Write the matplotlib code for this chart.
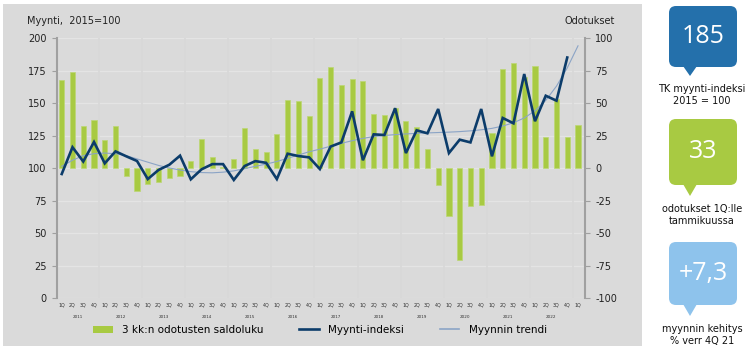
import matplotlib.pyplot as plt
from matplotlib.patches import FancyBboxPatch, Polygon, Rectangle, Patch
from matplotlib.lines import Line2D

plt.rcParams['font.family'] = ['DejaVu Sans']
plt.rcParams['axes.unicode_minus'] = False

# neljännekset 1Q 2011 ... 1Q (49 kpl)
quarters = ['1Q', '2Q', '3Q', '4Q'] * 12 + ['1Q']
years = ['2011', '2012', '2013', '2014', '2015', '2016',
         '2017', '2018', '2019', '2020', '2021', '2022']

# 3 kk:n odotusten saldoluku (oikea akseli)
odotukset = [68, 74, 32, 37, 21.5, 32, -6, -18, -12, -11, -8, -6,
             5.6, 22.3, 8.2, 1, 7, 30.8, 14.6, 12, 26, 52.6, 51.8, 40.3,
             69, 78, 64, 68.5, 66.7, 41.5, 40.8, 46, 36.4, 31.3, 14.6, -12.8,
             -36.7, -70.5, -29.5, -28.5, 27, 76, 80.5, 70, 78.7, 24, 53, 23.6, 33]

# myynti-indeksi 2015=100 (vasen akseli)
indeksi = [95.4, 116, 105, 120, 103.6, 112.8, 109, 105.4, 91.5, 98.5, 102.5, 109.5,
           91.3, 99, 103, 103, 90.8, 101.5, 105.3, 104, 91.5, 111, 109.2, 108.2,
           99.2, 116.5, 119.7, 143.6, 106, 125.9, 125.4, 146, 111.5, 129, 126.7, 145.4,
           111.5, 121.8, 119.7, 145.4, 109, 138.5, 134.4, 172.3, 136, 155.6, 151.8, 185]

trendi = [101.3, 106, 109.5, 111, 111.5, 111, 109.5, 107, 104.5, 102, 100, 98.5,
          97.2, 96.5, 96.3, 96.8, 97.8, 99.5, 101.3, 103, 105, 107.5, 110, 112.5,
          114.5, 116.8, 119, 121, 122.8, 124.2, 125, 125.7, 126.2, 126.7, 127, 127.3,
          127.6, 128, 128.6, 129.4, 130.5, 132.3, 134.8, 138.5, 144, 152, 163, 177, 194]

GREEN = '#a8ca42'
NAVY = '#0c3c6a'
TREND = '#8ba4c6'
SPINE = '#a0a0a0'

fig = plt.figure(figsize=(7.5, 3.53), dpi=100)

# taustapaneelit pikselikoordinaateissa
ov = fig.add_axes([0, 0, 1, 1])
ov.set_xlim(0, 750)
ov.set_ylim(353, 0)
ov.axis('off')
ov.set_zorder(-1)
ov.add_patch(Rectangle((3, 4), 639, 342, color='#dadada', lw=0))

ov.text(27, 21, 'Myynti,  2015=100', fontsize=7, va='center', ha='left', color='#222222')
ov.text(615, 21, 'Odotukset', fontsize=7, va='center', ha='right', color='#222222')

boxes = [
    (6, 67, 76, '#2470ab', '185', ['TK myynti-indeksi', '2015 = 100']),
    (119, 185, 196, GREEN, '33', ['odotukset 1Q:lle', 'tammikuussa']),
    (242, 305, 316, '#8ec3ec', '+7,3', ['myynnin kehitys', '% verr 4Q 21']),
]
for top, bot, tip, col, num, cap in boxes:
    ov.add_patch(FancyBboxPatch((669, top), 68, bot - top,
                                boxstyle='round,pad=0,rounding_size=7',
                                fc=col, ec='none'))
    ov.add_patch(Polygon([(683, bot - 1), (697, bot - 1), (690, tip)],
                         closed=True, fc=col, ec='none'))
    ov.text(703, (top + bot) / 2, num, fontsize=18, color='white',
            ha='center', va='center', family='Open Sans')
    ov.text(702, tip + 13, cap[0], fontsize=7, ha='center', va='center', color='#111111')
    ov.text(702, tip + 25, cap[1], fontsize=7, ha='center', va='center', color='#111111')

# kaavio
ax = fig.add_axes([0.076, 0.1558, 0.704, 0.7365])
ax2 = ax.twinx()
ax.set_zorder(ax2.get_zorder() + 1)
ax.patch.set_visible(False)
ax2.patch.set_facecolor('white')

x = list(range(len(quarters)))

ax2.bar(x, odotukset, width=0.48, color=GREEN, edgecolor='#bcd874', linewidth=0.5, zorder=2)
ax2.set_ylim(-100, 100)
ax2.set_yticks(range(-100, 101, 25))
ax2.yaxis.grid(True, color='#e4e4e4', linewidth=1)
ax2.set_axisbelow(True)
for k in range(1, 13):
    ax2.axvline(4 * k - 0.5, color='#d8d8d8', linewidth=1.3, zorder=1)

ax.plot(x[:len(trendi)], trendi, color=TREND, linewidth=0.8)
ax.plot(x[:len(indeksi)], indeksi, color=NAVY, linewidth=1.9, solid_joinstyle='miter')
ax.set_ylim(0, 200)
ax.set_yticks(range(0, 201, 25))
ax.set_xlim(-0.44, 48.65)

ax.set_xticks(x)
ax.set_xticklabels(quarters, fontsize=3.4, color='#333333')
ax.tick_params(axis='x', length=0, pad=3.5)
for k, yr in enumerate(years):
    ax.text(4 * k + 1.5, -0.073, yr, transform=ax.get_xaxis_transform(),
            fontsize=3.0, ha='center', va='center', color='#333333')

for a in (ax, ax2):
    for s in ('top', 'bottom'):
        a.spines[s].set_visible(False)
ax.spines['right'].set_visible(False)
ax2.spines['left'].set_visible(False)
ax.spines['left'].set_color(SPINE)
ax.spines['left'].set_linewidth(1.5)
ax2.spines['right'].set_color(SPINE)
ax2.spines['right'].set_linewidth(1.5)
ax.tick_params(axis='y', labelsize=7, length=3.5, color=SPINE, width=0.8, pad=4, labelcolor='#222222')
ax2.tick_params(axis='y', labelsize=7, length=3.5, color=SPINE, width=0.8, pad=4, labelcolor='#222222')

handles = [Patch(facecolor=GREEN, edgecolor='none'),
           Line2D([], [], color=NAVY, linewidth=1.9),
           Line2D([], [], color=TREND, linewidth=1.2)]
labels = ['3 kk:n odotusten saldoluku', 'Myynti-indeksi', 'Myynnin trendi']
fig.legend(handles, labels, loc='center left', bbox_to_anchor=(93 / 750, 23 / 353),
           ncol=3, frameon=False, fontsize=7.5, handlelength=1.9, handletextpad=0.9,
           columnspacing=3.4, borderpad=0, borderaxespad=0)

fig.savefig('out.png', dpi=100)
